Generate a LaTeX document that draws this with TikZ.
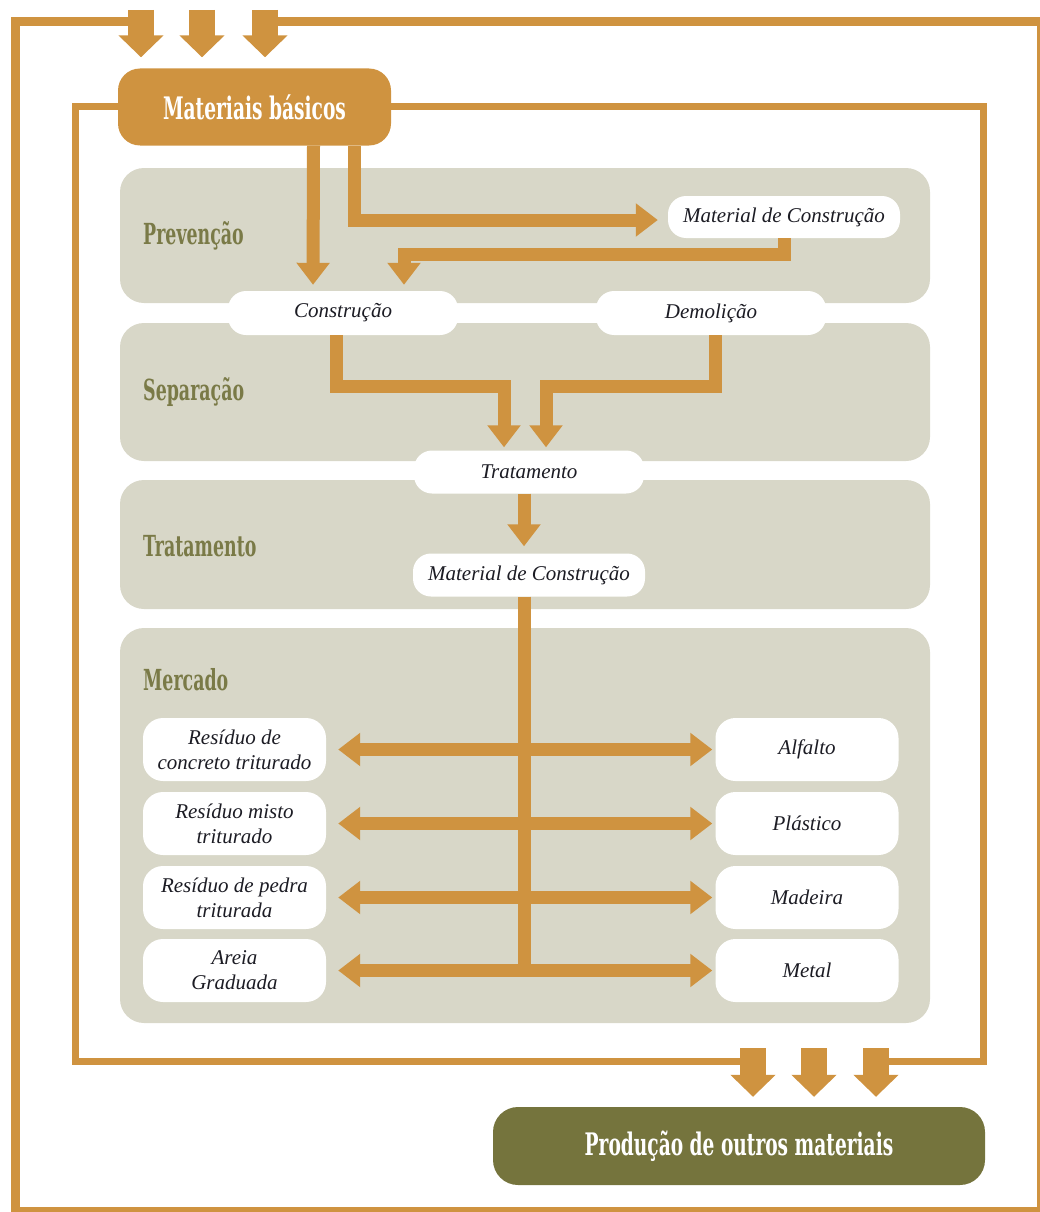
\documentclass[tikz,border=0pt]{standalone}
\usepackage{fontspec}
\setmainfont{Liberation Serif}
\newfontfamily\headfont[FakeStretch=0.6]{DejaVu Serif}
\usetikzlibrary{arrows.meta}

\definecolor{ocre}{HTML}{CF9340}
\definecolor{oliva}{HTML}{75743D}
\definecolor{titolo}{HTML}{7A7A47}
\definecolor{fondo}{HTML}{D8D7C8}
\definecolor{testo}{HTML}{1C1C24}

\begin{document}
\begin{tikzpicture}[x=1pt, y=-1pt,
    fase/.style={fill=fondo, rounded corners=24pt},
    titolofase/.style={anchor=west, inner sep=0pt, text=titolo, font=\headfont\bfseries\fontsize{29}{34}\selectfont},
    pill/.style={fill=white, rounded corners=18pt, minimum width=230pt, minimum height=44pt, inner sep=0pt, text=testo, font=\fontsize{21}{25}\selectfont\itshape},
    uscita/.style={pill, minimum width=183pt, minimum height=63pt, rounded corners=20pt, align=center},
    flow/.style={draw=ocre, line width=13pt, -{Triangle[width=32pt,length=22pt]}},
    biflow/.style={draw=ocre, line width=13pt, {Triangle[width=32pt,length=22pt]}-{Triangle[width=32pt,length=22pt]}},
    bigflow/.style={draw=ocre, line width=26pt, -{Triangle[width=44pt,length=22pt]}},
    cornice/.style={draw=ocre, line width=9pt},
    telaio/.style={draw=ocre, line width=7pt}
]
    \useasboundingbox (0,0) rectangle (1040,1212);

    % Fasi
    \fill[fase] (120,168) rectangle (930,303);
    \fill[fase] (120,323) rectangle (930,461);
    \fill[fase] (120,480) rectangle (930,609);
    \fill[fase] (120,628) rectangle (930,1023);
    \node[titolofase] (prev) at (143,236) {Prevenção};
    \node[titolofase] (sep) at (143,392) {Separação};
    \node[titolofase] (trt) at (143,546) {Tratamento};
    \node[titolofase] (merc) at (143,680) {Mercado};

    % Cornici
    \draw[cornice] (141,22) -- (15,22) -- (15,1211) -- (1041,1211) -- (1041,22) -- (265,22);

    % Materiais e produzione
    \node[fill=ocre, rounded corners=22pt, minimum width=273pt, minimum height=77pt, text=white, font=\headfont\bfseries\fontsize{31}{36}\selectfont] (mat) at (254.5,107) {Materiais básicos};
    \node[fill=oliva, rounded corners=25pt, minimum width=492pt, minimum height=78pt, text=white, font=\headfont\bfseries\fontsize{31}{36}\selectfont] (prod) at (739,1146) {Produção de outros materiais};

    \draw[telaio] (mat.west) -| (75,1061) -- (753,1061);
    \draw[telaio] (876,1061) -- (983,1061) |- (mat.east);

    % Nodi
    \node[pill, minimum width=232pt, minimum height=42pt] (mattop) at (784,217) {Material de Construção};
    \node[pill] (constr) at (343,313) {Construção};
    \node[pill] (demol) at (711,313) {Demolição};
    \node[pill, minimum height=43pt] (trat) at (529,472) {Tratamento};
    \node[pill, minimum width=232pt, minimum height=43pt] (mat2) at (529,575) {Material de Construção};

    \node[uscita] (res1) at (234.5,749.5) {Resíduo de\\concreto triturado};
    \node[uscita] (res2) at (234.5,823.5) {Resíduo misto\\triturado};
    \node[uscita] (res3) at (234.5,897.5) {Resíduo de pedra\\triturada};
    \node[uscita] (areia) at (234.5,970.5) {Areia\\Graduada};
    \node[uscita] (alf) at (807,749.5) {Alfalto};
    \node[uscita] (plast) at (807,823.5) {Plástico};
    \node[uscita] (mad) at (807,897.5) {Madeira};
    \node[uscita] (metal) at (807,970.5) {Metal};

    % Frecce grandi
    \coordinate (in1) at (141,10);
    \coordinate (in2) at (202,10);
    \coordinate (in3) at (265,10);
    \draw[bigflow, shorten >=11pt] (in1) -- (in1 |- mat.north);
    \draw[bigflow, shorten >=11pt] (in2) -- (in2 |- mat.north);
    \draw[bigflow, shorten >=11pt] (in3) -- (in3 |- mat.north);
    \coordinate (out1) at (753,1048);
    \coordinate (out2) at (814,1048);
    \coordinate (out3) at (876,1048);
    \draw[bigflow, shorten >=10pt] (out1) -- (out1 |- prod.north);
    \draw[bigflow, shorten >=10pt] (out2) -- (out2 |- prod.north);
    \draw[bigflow, shorten >=10pt] (out3) -- (out3 |- prod.north);

    % Flussi
    \draw[flow, shorten >=6pt] ([xshift=59pt]mat.south) -- ([xshift=-30pt]constr.north);
    \draw[flow, shorten >=10pt] ([xshift=100pt]mat.south) |- ([yshift=-3pt]mattop.west);
    \draw[flow, shorten >=6pt] (mattop.south) -- ++(0,16) -| ([xshift=61pt]constr.north);
    \draw[flow, shorten >=3pt] ([xshift=-7pt]constr.south) -- ++(0,51) -| ([xshift=-25pt]trat.north);
    \draw[flow, shorten >=3pt] ([xshift=4pt]demol.south) -- ++(0,51) -| ([xshift=17pt]trat.north);
    \draw[flow, shorten >=7pt] ([xshift=-5pt]trat.south) -- ([xshift=-5pt]mat2.north);

    % Mercado
    \coordinate (tronco) at (524,976.5);
    \draw[ocre, line width=13pt] ([xshift=-5pt]mat2.south) -- (tronco);
    \draw[biflow, shorten <=12pt, shorten >=3pt] (res1) -- (alf);
    \draw[biflow, shorten <=12pt, shorten >=3pt] (res2) -- (plast);
    \draw[biflow, shorten <=12pt, shorten >=3pt] (res3) -- (mad);
    \draw[biflow, shorten <=12pt, shorten >=3pt] (areia) -- (metal);
\end{tikzpicture}
\end{document}
